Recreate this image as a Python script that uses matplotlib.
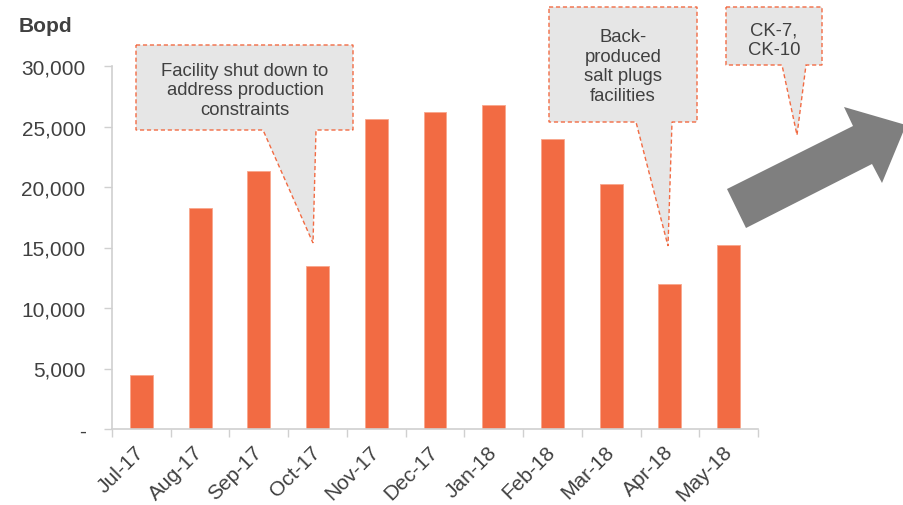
import matplotlib
matplotlib.use("Agg")
import matplotlib.pyplot as plt
from matplotlib.patches import Polygon
import numpy as np

plt.rcParams['font.family'] = ['Liberation Sans', 'DejaVu Sans']

months = ["Jul-17", "Aug-17", "Sep-17", "Oct-17", "Nov-17", "Dec-17",
          "Jan-18", "Feb-18", "Mar-18", "Apr-18", "May-18"]
bopd = [4450, 18300, 21300, 13450, 25600, 26200, 26800, 23950, 20250, 12000, 15200]
yticks = [0, 5000, 10000, 15000, 20000, 25000, 30000]
callouts = [
    "Facility shut down to\naddress production\nconstraints",
    "Back-\nproduced\nsalt plugs\nfacilities",
    "CK-7,\nCK-10",
]

W, H = 904, 506
BAR = "#F26B43"
TXT = "#404040"
AX = "#D0D0D0"

fig = plt.figure(figsize=(W / 100, H / 100), dpi=100)


def fx(x):
    return x / W


def fy(y):
    return 1 - y / H


ax = fig.add_axes([fx(112), fy(430), fx(758) - fx(112), fy(67) - fy(430)])
x = np.arange(len(months))
ax.bar(x, bopd, width=0.39, color=BAR, edgecolor="#F8A68C", linewidth=0.6)
ax.set_xlim(-0.5, len(months) - 0.5)
ax.set_ylim(0, 30000)
ax.set_yticks(yticks)
ax.set_yticklabels(["-" if v == 0 else f"{v:,}" for v in yticks])
ax.set_xticks(x)
ax.set_xticklabels(months, rotation=45, ha="right", rotation_mode="anchor", va="center")
ax.set_xticks(np.arange(-0.5, len(months)), minor=True)
ax.tick_params(axis="x", which="major", length=0, pad=14, labelsize=15, labelcolor=TXT)
ax.tick_params(axis="x", which="minor", length=6, color=AX, width=1)
ax.tick_params(axis="y", length=6, color=AX, width=1, pad=13, labelsize=15, labelcolor=TXT)
for s in ["top", "right"]:
    ax.spines[s].set_visible(False)
for s in ["left", "bottom"]:
    ax.spines[s].set_color(AX)
    ax.spines[s].set_linewidth(1.2)

fig.text(fx(19), fy(27), "Bopd", fontsize=15, fontweight="bold", color=TXT,
         ha="left", va="center")


def callout(box, base, tip, text, tcenter):
    x0, y0, x1, y1 = box
    bl, br = base
    pts = [(x0, y0), (x1, y0), (x1, y1), (br, y1), tip, (bl, y1), (x0, y1)]
    poly = Polygon([(fx(a), fy(b)) for a, b in pts], closed=True,
                   transform=fig.transFigure, facecolor="#E6E6E6",
                   edgecolor=BAR, linestyle=(0, (3, 2)), linewidth=1.0, zorder=5)
    fig.add_artist(poly)
    fig.text(fx(tcenter[0]), fy(tcenter[1]), text, fontsize=13.3, color=TXT,
             ha="center", va="center", linespacing=1.2, zorder=6)


callout((136, 46, 353, 131), (263, 316), (313, 244), callouts[0], (245, 91))
callout((549, 8, 697, 123), (636, 672), (668, 247), callouts[1], (623, 67))
callout((726, 8, 822, 66), (782, 806), (797, 136), callouts[2], (774, 41))

# block arrow (pixel coords)
arrow_px = [(727, 190), (853, 127), (844, 108), (906, 126), (882, 184), (872, 165), (746, 229)]
fig.add_artist(Polygon([(fx(a), fy(b)) for a, b in arrow_px], closed=True,
                       transform=fig.transFigure, facecolor="#7F7F7F",
                       edgecolor="none", zorder=4))

fig.savefig("out.png", dpi=100)
